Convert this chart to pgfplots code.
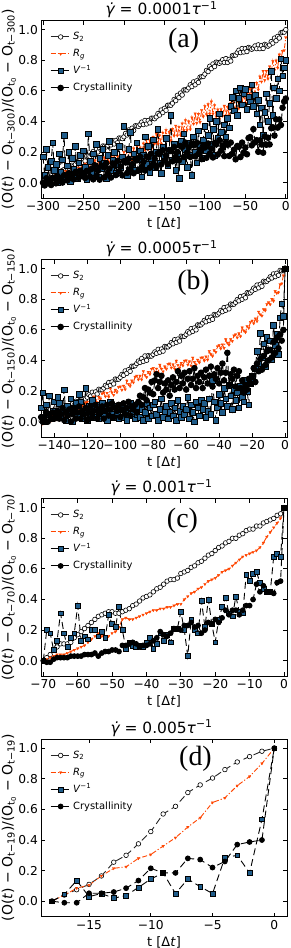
\documentclass[border=0pt]{standalone}
\usepackage{fontspec}
\setmainfont{DejaVu Sans}
\newfontfamily\seriffont{Liberation Serif}
\usepackage{pgfplots}
\pgfplotsset{compat=1.18}
\usepackage{pgfplotstable}
\definecolor{sqblue}{RGB}{31,92,138}
\definecolor{rgorange}{RGB}{255,69,0}

\pgfplotstableread{
t s r v c
-300 0 0 .17 0
-298 .017 -.006 .05 -.018
-296 .002 .028 .22 .029
-294 .03 -.003 .10 -.004
-292 .008 .026 .02 .013
-290 .031 0 .14 -.015
-288 .015 .039 .26 .032
-286 .045 .018 .08 .029
-284 .043 .052 .12 -.004
-282 .039 .021 .00 .043
-280 .05 .05 .19 .01
-278 .069 .024 .07 .028
-276 .056 .063 .15 .001
-274 .086 .042 .31 .049
-272 .066 .076 .04 .047
-270 .091 .045 .11 .015
-268 .077 .074 .20 .063
-266 .109 .048 .01 .031
-264 .109 .087 .16 .049
-262 .107 .066 .09 .022
-260 .12 .10 .24 .07
-258 .138 .069 .03 .066
-256 .124 .098 .13 .032
-254 .153 .072 .18 .078
-252 .132 .111 .06 .044
-250 .156 .09 .21 .06
-248 .142 .124 .10 .031
-246 .174 .093 .02 .077
-244 .174 .122 .32 .073
-242 .172 .096 .14 .039
-240 .185 .135 .07 .09
-238 .204 .113 .19 .022
-236 .191 .146 .11 .114
-234 .221 .114 .25 .046
-232 .201 .142 .04 .078
-230 .226 .115 .16 .02
-228 .21 .153 .09 .112
-226 .24 .131 .22 .104
-224 .238 .164 .13 .036
-222 .234 .132 .03 .128
-220 .245 .16 .18 .06
-218 .262 .132 .27 .092
-216 .247 .169 .08 .034
-214 .275 .146 .15 .126
-212 .253 .178 .20 .118
-210 .276 .145 .06 .05
-208 .261 .172 .12 .142
-206 .292 .144 .24 .074
-204 .291 .181 .10 .106
-202 .288 .158 .17 .048
-200 .30 .20 .37 .14
-198 .322 .154 .14 .132
-196 .312 .218 .05 .064
-194 .345 .152 .22 .156
-192 .328 .206 .33 .088
-190 .356 .15 .11 .12
-188 .341 .224 .19 .062
-186 .372 .178 .08 .154
-184 .371 .242 .26 .146
-182 .368 .176 .15 .078
-180 .38 .23 .21 .17
-178 .396 .178 .04 .103
-176 .38 .256 .18 .136
-174 .407 .214 .30 .079
-172 .384 .282 .12 .172
-170 .406 .22 .24 .165
-168 .391 .276 .07 .098
-166 .422 .222 .16 .191
-164 .421 .298 .28 .124
-162 .418 .254 .10 .157
-160 .43 .32 .20 .10
-158 .452 .254 .35 .193
-156 .442 .308 .13 .186
-154 .475 .252 .06 .119
-152 .458 .326 .23 .212
-150 .486 .28 .17 .145
-148 .473 .344 .29 .178
-146 .506 .278 .11 .121
-144 .507 .332 .21 .214
-142 .506 .276 .44 .207
-140 .52 .35 .15 .14
-138 .544 .306 .25 .234
-136 .536 .372 .08 .168
-134 .571 .308 .19 .202
-132 .556 .364 .03 .146
-130 .586 .31 .27 .24
-128 .573 .386 .14 .234
-126 .606 .342 .32 .168
-124 .607 .408 .22 .262
-122 .606 .344 .10 .196
-120 .62 .40 .26 .23
-118 .64 .348 .18 .168
-116 .628 .426 .05 .256
-114 .659 .384 .30 .244
-112 .64 .452 .20 .172
-110 .666 .39 .13 .26
-108 .655 .448 .34 .188
-106 .69 .396 .24 .216
-104 .693 .474 .16 .154
-102 .694 .432 .28 .242
-100 .71 .50 .37 .23
-98 .734 .446 .21 .163
-96 .726 .512 .31 .256
-94 .761 .45 .42 .189
-92 .746 .53 .25 .222
-90 .776 .45 .35 .165
-88 .759 .506 .18 .258
-86 .788 .432 .40 .251
-84 .785 .478 .29 .184
-82 .78 .414 .45 .277
-80 .79 .48 .33 .21
-78 .804 .436 .24 .237
-76 .786 .502 .38 .174
-74 .811 .438 .30 .261
-72 .786 .494 .42 .248
-70 .806 .44 .36 .175
-68 .795 .518 .50 .262
-66 .83 .476 .56 .189
-64 .833 .544 .47 .216
-62 .834 .482 .60 .153
-60 .85 .54 .44 .24
-58 .866 .486 .55 .234
-56 .85 .562 .62 .168
-54 .877 .518 .51 .262
-52 .854 .584 .58 .196
-50 .876 .52 .61 .23
-48 .857 .58 .48 .186
-46 .884 .53 .56 .292
-44 .879 .61 .53 .298
-42 .872 .57 .64 .244
-40 .88 .64 .50 .35
-38 .894 .586 .57 .264
-36 .876 .652 .45 .278
-34 .901 .608 .54 .202
-32 .876 .694 .38 .276
-30 .896 .66 .49 .25
-28 .877 .73 .31 .196
-26 .904 .67 .46 .302
-24 .899 .73 .58 .248
-22 .892 .68 .40 .294
-20 .90 .76 .52 .25
-18 .922 .722 .73 .356
-16 .912 .794 .44 .362
-14 .945 .736 .62 .308
-12 .928 .798 .55 .414
-10 .956 .75 .68 .36
-8 .945 .837 .60 .413
-6 .98 .803 .81 .377
-4 .983 .86 .70 .49
-2 .984 .865 .75 .53
0 1.0 .95 .80 .55
}\tabA

\pgfplotstableread{
t s r v c
-150 0 0 0 0
-149 .015 -.008 .01 -.01
-148 .005 .014 .09 .03
-147 .03 -.014 .19 .0
-146 .01 .038 .00 .03
-145 .03 .01 .11 .06
-144 .015 -.008 .05 .0
-143 .045 .024 .17 .05
-142 .04 .006 .02 .02
-141 .04 .038 .07 .06
-140 .05 .04 .13 .02
-139 .065 .014 .03 .04
-138 .055 .038 .16 .07
-137 .08 .012 .12 .02
-136 .06 .066 .04 .05
-135 .08 .04 .08 .09
-134 .065 .024 .21 .01
-133 .095 .058 .01 .06
-132 .09 .042 .10 .04
-131 .09 .076 .06 .08
-130 .10 .08 .15 .0
-129 .116 .055 .00 .05
-128 .107 .08 .09 .09
-127 .133 .055 .12 .02
-126 .114 .11 .05 .06
-125 .135 .085 .18 .10
-124 .121 .07 .13 .02
-123 .152 .105 .02 .07
-122 .148 .09 .07 .05
-121 .149 .125 .22 .09
-120 .16 .13 .01 .01
-119 .176 .106 .10 .06
-118 .167 .132 .04 .10
-117 .193 .108 .14 .03
-116 .174 .164 .03 .07
-115 .195 .14 .08 .11
-114 .181 .126 .11 .02
-113 .212 .162 .02 .08
-112 .208 .148 .06 .06
-111 .209 .184 .12 .10
-110 .22 .19 .04 .02
-109 .237 .164 .09 .07
-108 .229 .188 .01 .11
-107 .256 .162 .07 .04
-106 .238 .216 .13 .08
-105 .26 .19 .05 .12
-104 .247 .174 .03 .03
-103 .279 .208 .10 .09
-102 .276 .192 .06 .07
-101 .278 .226 .02 .11
-100 .29 .23 .08 .03
-99 .309 .207 .11 .08
-98 .303 .234 .03 .12
-97 .332 .211 .06 .05
-96 .316 .268 .01 .09
-95 .34 .245 .09 .13
-94 .329 .232 .12 .04
-93 .363 .269 .04 .10
-92 .362 .256 .07 .08
-91 .366 .293 .02 .11
-90 .38 .30 .05 .06
-89 .396 .275 .10 .13
-88 .387 .30 .03 .17
-87 .413 .275 .08 .11
-86 .394 .33 .01 .16
-85 .43 .305 .06 .22
-84 .401 .29 .12 .14
-83 .432 .325 .02 .21
-82 .428 .31 .09 .19
-81 .429 .345 .04 .26
-80 .44 .35 .11 .18
-79 .456 .323 .13 .27
-78 .447 .346 .05 .31
-77 .473 .319 .01 .22
-76 .454 .372 .08 .26
-75 .475 .345 .15 .30
-74 .461 .328 .03 .19
-73 .492 .361 .07 .25
-72 .488 .344 .10 .21
-71 .489 .377 .02 .27
-70 .50 .38 .06 .17
-69 .517 .352 .12 .24
-68 .509 .374 .04 .29
-67 .536 .346 .09 .21
-66 .518 .398 .01 .26
-65 .54 .37 .14 .33
-64 .527 .352 .07 .22
-63 .559 .384 .03 .30
-62 .556 .366 .10 .25
-61 .558 .398 .05 .32
-60 .57 .40 .08 .21
-59 .588 .372 .16 .28
-58 .58 .394 .02 .33
-57 .608 .366 .11 .24
-56 .59 .418 .06 .28
-55 .613 .39 .00 .35
-54 .60 .372 .13 .22
-53 .633 .404 .09 .30
-52 .63 .386 .04 .26
-51 .633 .418 .14 .32
-50 .645 .42 .08 .22
-49 .662 .398 .12 .29
-48 .653 .426 .03 .34
-47 .68 .404 .07 .25
-46 .661 .462 .15 .30
-45 .683 .44 .05 .36
-44 .669 .428 .27 .23
-43 .701 .466 .13 .31
-42 .697 .454 .01 .28
-41 .699 .492 .09 .35
-40 .71 .50 .18 .25
-39 .727 .477 .12 .32
-38 .719 .504 .06 .38
-37 .746 .481 .22 .27
-36 .728 .538 .15 .32
-35 .75 .515 .10 .45
-34 .737 .502 .24 .24
-33 .769 .539 .17 .31
-32 .766 .526 .08 .28
-31 .768 .563 .21 .34
-30 .78 .57 .14 .23
-29 .798 .549 .19 .30
-28 .79 .578 .09 .33
-27 .818 .557 .23 .22
-26 .80 .616 .16 .27
-25 .823 .595 .13 .19
-24 .81 .584 .27 .24
-23 .843 .623 .20 .21
-22 .84 .612 .11 .28
-21 .843 .651 .25 .25
-20 .855 .66 .30 .30
-19 .873 .642 .26 .35
-18 .865 .674 .35 .26
-17 .893 .656 .46 .38
-16 .875 .718 .38 .33
-15 .898 .70 .58 .41
-14 .885 .692 .42 .34
-13 .918 .734 .51 .43
-12 .915 .726 .36 .37
-11 .918 .768 .55 .46
-10 .93 .78 .47 .40
-9 .947 .766 .53 .47
-8 .939 .802 .41 .42
-7 .966 .788 .63 .52
-6 .948 .854 .50 .45
-5 .97 .84 .57 .55
-4 .957 .844 .44 .48
-3 .989 .898 .68 .57
-2 .986 .902 .77 .53
-1 .988 .956 .69 .60
0 1.0 1.0 1.0 1.0
}\tabB

\pgfplotstableread{
t s r v c
-70 0 0 0 0
-69 .02 .01 .20 -.01
-68 .04 .02 .18 -.01
-67 .07 .03 .07 .01
-66 .09 .04 .13 .02
-65 .11 .04 .31 .02
-64 .11 .04 .18 .02
-63 .11 .05 .09 .02
-62 .12 .06 .15 .03
-61 .15 .07 .18 .03
-60 .17 .08 .36 .03
-59 .19 .09 .13 .03
-58 .21 .10 .16 .04
-57 .23 .12 .14 .04
-56 .25 .14 .20 .04
-55 .27 .16 .20 .05
-54 .29 .18 .16 .03
-53 .30 .16 .19 .05
-52 .31 .15 .15 .06
-51 .32 .16 .30 .06
-50 .32 .18 .24 .07
-49 .31 .19 .22 .07
-48 .31 .22 .35 .06
-47 .32 .27 .20 .10
-46 .33 .28 .08 .10
-45 .34 .27 .12 .11
-44 .36 .27 .10 .12
-43 .37 .28 .09 .11
-42 .39 .29 .10 .09
-41 .41 .30 .09 .10
-40 .42 .31 .12 .10
-39 .43 .32 .15 .11
-38 .45 .33 .08 .13
-37 .47 .33 .11 .15
-36 .48 .34 .18 .19
-35 .50 .34 .13 .17
-34 .52 .35 .17 .16
-33 .53 .35 .12 .18
-32 .53 .36 .21 .21
-31 .54 .37 .21 .21
-30 .57 .37 .32 .20
-29 .58 .40 .20 .23
-28 .59 .42 .03 .23
-27 .61 .44 .27 .25
-26 .62 .45 .20 .22
-25 .64 .47 .18 .23
-24 .65 .48 .39 .18
-23 .67 .50 .22 .20
-22 .69 .52 .40 .25
-21 .70 .53 .24 .24
-20 .72 .54 .12 .27
-19 .74 .56 .27 .25
-18 .75 .58 .35 .28
-17 .77 .59 .41 .33
-16 .78 .60 .31 .30
-15 .80 .62 .29 .33
-14 .80 .64 .42 .33
-13 .82 .66 .32 .30
-12 .83 .68 .31 .33
-11 .85 .69 .56 .36
-10 .86 .70 .52 .36
-9 .86 .71 .57 .40
-8 .88 .72 .58 .50
-7 .88 .74 .51 .45
-6 .90 .77 .47 .49
-5 .91 .81 .45 .45
-4 .92 .84 .45 .45
-3 .93 .87 .68 .44
-2 .95 .90 .70 .51
-1 .96 .93 .68 .52
0 1.0 1.0 1.0 1.0
}\tabC

\pgfplotstableread{
t s r v c
-18 0.00 0.00 0.00 0.00
-17 0.04 0.04 0.045 -0.01
-16 0.075 0.085 0.135 -0.01
-15 0.11 0.105 0.03 0.052
-14 0.165 0.165 0.05 0.052
-13 0.255 0.215 0.02 0.06
-12 0.30 0.225 0.037 0.085
-11 0.375 0.28 0.09 0.135
-10 0.455 0.305 0.145 0.215
-9 0.57 0.36 0.185 0.185
-8 0.62 0.415 0.05 0.185
-7 0.71 0.485 0.145 0.28
-6 0.76 0.545 0.095 0.272
-5 0.805 0.645 0.05 0.22
-4 0.86 0.675 0.285 0.26
-3 0.91 0.755 0.30 0.37
-2 0.945 0.815 0.185 0.387
-1 0.98 0.90 0.535 0.40
0 1.0 1.0 1.0 1.0
}\tabD

\tikzset{
 s2/.style={black!85, line width=0.9bp, dash pattern=on 7bp off 4bp, mark=*, mark size=2.3bp, mark options={solid, fill=white, draw=black, line width=0.6bp}},
 rg/.style={rgorange, line width=0.9bp, dash pattern=on 5bp off 2bp on 1.2bp off 2bp, mark=triangle*, mark size=1.5bp, mark options={solid, rotate=180, fill=rgorange, draw=rgorange, line width=0.3bp}},
 vv/.style={black, line width=0.9bp, dash pattern=on 7bp off 4bp, mark=square*, mark size=2.4bp, mark options={solid, fill=sqblue, draw=black, line width=0.5bp}},
 cr/.style={black, line width=0.9bp, dash pattern=on 7bp off 4bp, mark=*, mark size=2.4bp, mark options={solid, fill=black, draw=black}},
 big/.style={mark size=2.8bp},
}

\newcommand\ylab[1]{(O(\textit{t}) − O\textsubscript{t−#1})/(O\textsubscript{t\textsubscript{0}} − O\textsubscript{t−#1})}
\newcommand\ttl[1]{\textit{γ̇} = #1\textit{τ}\textsuperscript{−1}}

\pgfplotsset{panel/.style={
  width=246bp, height=177.5bp, scale only axis,
  anchor=north west,
  ymin=-0.1, ymax=1.06,
  ytick={0,0.2,0.4,0.6,0.8,1}, yticklabels={0.0,0.2,0.4,0.6,0.8,1.0},
  tick align=inside, major tick length=4bp,
  tick style={black, line width=0.8bp},
  axis line style={line width=0.9bp},
  tick label style={font=\fontsize{12.3}{14}\selectfont},
  xticklabel style={inner sep=3.5bp},
  yticklabel style={inner sep=3bp},
  xlabel={t [Δ\textit{t}]},
  every axis x label/.style={at={(axis description cs:0.5,0)}, anchor=north, yshift=-19.5bp, inner sep=0pt, font=\fontsize{13}{15}\selectfont},
  every axis y label/.style={at={(axis description cs:-0.13,0.5)}, rotate=90, anchor=center, inner sep=0pt, font=\fontsize{14}{16}\selectfont},
  every axis title/.style={at={(axis description cs:0.49,1)}, anchor=south, inner sep=0pt, yshift=2.5bp, font=\fontsize{15.5}{17}\selectfont},
  legend cell align=left,
  legend style={draw=none, fill=none, at={(axis description cs:0,1)}, anchor=north west, xshift=6bp, yshift=-7bp,
    font=\fontsize{10}{12}\selectfont, row sep=2.5bp, nodes={inner sep=2bp, text height=8bp, text depth=2.5bp}},
  legend image code/.code={\draw[mark repeat=2, mark phase=2, ##1] plot coordinates {(0bp,0bp) (10bp,0bp) (20bp,0bp)};},
}}

\begin{document}
\begin{tikzpicture}
\path[use as bounding box] (0,0) rectangle (291bp,-948bp);

\begin{axis}[panel, at={(41bp,-20.5bp)}, xmin=-302.5, xmax=1.5,
  xtick={-300,-250,-200,-150,-100,-50,0}, xticklabels={−300,−250,−200,−150,−100,−50,0},
  ylabel={\ylab{300}}, title={\ttl{0.0001}}]
\addplot[s2] table[x=t,y=s]{\tabA};
\addplot[rg] table[x=t,y=r]{\tabA};
\addplot[vv,big] table[x=t,y=v]{\tabA};
\addplot[cr,big] table[x=t,y=c]{\tabA};
\legend{\textit{S}\textsubscript{2}, \textit{R}\textsubscript{\textit{g}}, \textit{V}\textsuperscript{−1}, Crystallinity}
\node[font=\seriffont\fontsize{28}{30}\selectfont] at (axis description cs:0.58,0.888) {(a)};
\end{axis}

\begin{axis}[panel, at={(41bp,-259.5bp)}, xmin=-148.1, xmax=1.2,
  xtick={-140,-120,-100,-80,-60,-40,-20,0}, xticklabels={−140,−120,−100,−80,−60,−40,−20,0},
  ylabel={\ylab{150}}, title={\ttl{0.0005}}]
\addplot[s2] table[x=t,y=s]{\tabB};
\addplot[rg] table[x=t,y=r]{\tabB};
\addplot[vv,big] table[x=t,y=v]{\tabB};
\addplot[cr,big] table[x=t,y=c]{\tabB};
\legend{\textit{S}\textsubscript{2}, \textit{R}\textsubscript{\textit{g}}, \textit{V}\textsuperscript{−1}, Crystallinity}
\node[font=\seriffont\fontsize{28}{30}\selectfont] at (axis description cs:0.62,0.87) {(b)};
\end{axis}

\begin{axis}[panel, at={(41bp,-498.5bp)}, xmin=-70.67, xmax=0.87,
  xtick={-70,-60,-50,-40,-30,-20,-10,0}, xticklabels={−70,−60,−50,−40,−30,−20,−10,0},
  ylabel={\ylab{70}}, title={\ttl{0.001}}]
\addplot[s2] table[x=t,y=s]{\tabC};
\addplot[rg] table[x=t,y=r]{\tabC};
\addplot[vv] table[x=t,y=v]{\tabC};
\addplot[cr] table[x=t,y=c]{\tabC};
\legend{\textit{S}\textsubscript{2}, \textit{R}\textsubscript{\textit{g}}, \textit{V}\textsuperscript{−1}, Crystallinity}
\node[font=\seriffont\fontsize{28}{30}\selectfont] at (axis description cs:0.575,0.872) {(c)};
\end{axis}

\begin{axis}[panel, at={(41bp,-739bp)}, xmin=-18.89, xmax=1.03,
  xtick={-15,-10,-5,0}, xticklabels={−15,−10,−5,0},
  ylabel={\ylab{19}}, title={\ttl{0.005}}]
\addplot[s2] table[x=t,y=s]{\tabD};
\addplot[rg] table[x=t,y=r]{\tabD};
\addplot[vv] table[x=t,y=v]{\tabD};
\addplot[cr] table[x=t,y=c]{\tabD};
\legend{\textit{S}\textsubscript{2}, \textit{R}\textsubscript{\textit{g}}, \textit{V}\textsuperscript{−1}, Crystallinity}
\node[font=\seriffont\fontsize{28}{30}\selectfont] at (axis description cs:0.628,0.887) {(d)};
\end{axis}
\end{tikzpicture}
\end{document}
